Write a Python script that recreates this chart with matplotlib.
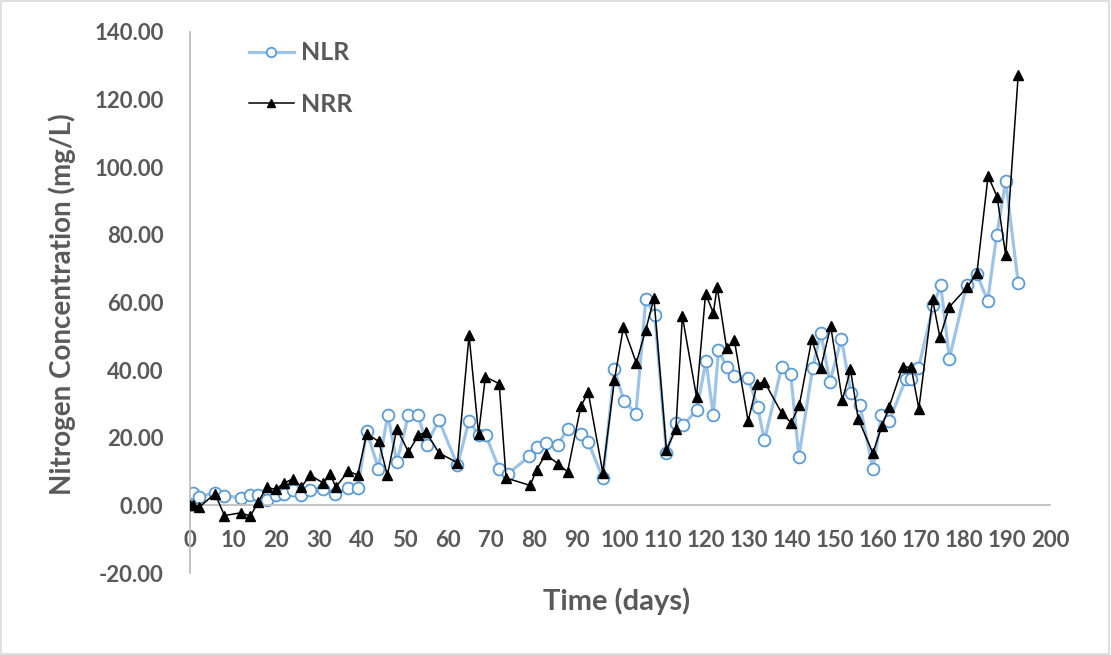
import matplotlib
matplotlib.use('Agg')
import matplotlib.pyplot as plt
import matplotlib.patches as mpatches

# sampling days and concentrations (mg/L)
nlr_days = [0, 0.8, 2.2, 5.7, 8, 11.9, 14, 15.7, 17.8, 19.9, 21.9, 24, 25.9, 27.9, 31, 33.7,
            36.8, 39, 41.1, 43.8, 46, 48.1, 50.8, 53.1, 55, 57.9, 62.2, 64.9, 67.1, 68.8,
            71.9, 74, 78.9, 80.6, 82.7, 85.6, 87.8, 90.9, 92.6, 96, 98.7, 100.9, 103.7, 106,
            108.1, 110.8, 113, 114.7, 117.8, 120, 121.7, 122.9, 124.8, 126.5, 129.8, 132,
            133.6, 137.6, 139.7, 141.6, 144.8, 146.7, 148.8, 151.5, 153.7, 155.8, 158.8,
            160.8, 162.6, 166.5, 167.7, 169.4, 172.9, 174.6, 176.6, 180.6, 183, 185.5, 187.6,
            189.7, 192.6]
nlr = [0.3, 3.8, 2.5, 3.8, 2.8, 2.3, 3.0, 3.2, 1.7, 3.2, 3.5, 4.4, 3.0, 4.6, 4.9, 3.3,
       5.1, 5.1, 22.0, 10.9, 26.8, 12.8, 26.6, 26.6, 18.0, 25.2, 11.8, 25.1, 20.7, 20.7,
       10.8, 9.4, 14.5, 17.3, 18.3, 18.0, 22.7, 21.2, 18.7, 8.1, 40.2, 31.0, 27.1, 60.9,
       56.2, 15.5, 24.5, 23.7, 28.1, 42.6, 26.6, 45.9, 40.9, 38.2, 37.8, 29.1,
       19.2, 40.9, 38.8, 14.4, 40.7, 51.1, 36.5, 49.3, 33.2, 29.6, 10.7,
       26.6, 24.9, 37.5, 37.5, 40.7, 59.2, 65.1, 43.4, 65.1, 68.4, 60.5, 79.9,
       95.9, 65.8]

nrr_days = [0, 0.8, 2.2, 5.8, 8, 11.9, 14, 15.9, 17.8, 19.9, 21.9, 24, 25.9, 27.9, 31, 32.6,
            33.9, 36.8, 39, 41.1, 43.9, 45.9, 48.1, 50.8, 53.1, 54.9, 57.9, 62.2, 64.9, 67.1,
            68.7, 71.9, 73.5, 79.1, 80.6, 82.7, 85.6, 87.8, 90.9, 92.6, 96, 98.7, 100.8, 103.8,
            106, 107.9, 110.8, 113, 114.5, 117.8, 119.9, 121.7, 122.6, 124.8, 126.6, 129.8,
            131.9, 133.6, 137.6, 139.8, 141.7, 144.6, 146.7, 149, 151.7, 153.6, 155.4, 158.8,
            160.9, 162.6, 165.7, 167.7, 169.5, 172.7, 174.4, 176.6, 180.8, 183, 185.6, 187.7,
            189.7, 192.6]
nrr = [0.0, 0.0, -0.5, 3.5, -3.0, -2.2, -3.2, 1.0, 5.4, 4.7, 6.6, 7.9, 5.4, 9.0, 6.6, 9.3,
       5.4, 10.1, 9.0, 21.2, 18.9, 8.9, 22.7, 15.8, 20.7, 21.7, 15.5, 12.6, 50.3, 21.2,
       38.0, 36.0, 8.1, 5.9, 10.5, 15.1, 12.3, 9.9, 29.3, 33.5, 9.7, 37.0, 52.8, 42.1,
       52.0, 61.2, 16.3, 22.7, 55.9, 32.1, 62.6, 56.9, 64.6, 46.4, 48.8, 24.9,
       36.0, 36.5, 27.3, 24.4, 29.6, 49.1, 40.7, 53.0, 31.1, 40.2, 25.6, 15.5,
       23.4, 29.1, 40.9, 40.9, 28.6, 60.9, 49.7, 58.7, 64.6, 68.7, 97.4, 91.3,
       74.0, 127.2]

x_ticks = list(range(0, 201, 10))
y_ticks = list(range(-20, 141, 20))

plt.rcParams['font.family'] = ['Lato', 'DejaVu Sans']
grey = '#595959'
axis_col = '#BFBFBF'

fig = plt.figure(figsize=(11.11, 6.55), dpi=100)
ax = fig.add_axes([190/1111, 1 - 573/655, (1050-190)/1111, (573-32)/655])

ax.plot(nlr_days, nlr, color='#9DC3E6', lw=2.3, marker='o', markersize=8.5,
        markerfacecolor='white', markeredgecolor='#5B9BD5', markeredgewidth=1.3,
        label='NLR', zorder=2)
ax.plot(nrr_days, nrr, color='black', lw=1.1, marker='^', markersize=6.5,
        markerfacecolor='black', markeredgecolor='black', label='NRR', zorder=3)

ax.set_xlim(0, 200)
ax.set_ylim(-20, 140)
ax.set_xticks(x_ticks)
ax.set_yticks(y_ticks)
ax.set_yticklabels(['%.2f' % v for v in y_ticks])

ax.spines['top'].set_visible(False)
ax.spines['right'].set_visible(False)
ax.spines['bottom'].set_position(('data', 0))
for s in ('left', 'bottom'):
    ax.spines[s].set_color(axis_col)
    ax.spines[s].set_linewidth(1.3)

ax.tick_params(axis='both', length=0, labelsize=16, labelcolor=grey)
ax.tick_params(axis='x', pad=18)
ax.tick_params(axis='y', pad=19)
for lab in ax.get_xticklabels() + ax.get_yticklabels():
    lab.set_fontweight('bold')

fig.text(617/1111, 1 - 601/655, 'Time (days)', ha='center', va='center',
         fontsize=21, fontweight='bold', color=grey)
fig.text(62/1111, 1 - 304/655, 'Nitrogen Concentration (mg/L)', ha='center', va='center',
         rotation=90, fontsize=20, fontweight='bold', color=grey)

leg = ax.legend(loc='upper left', bbox_to_anchor=(226/1111, 1 - 19/655),
                bbox_transform=fig.transFigure, frameon=False, fontsize=18,
                handlelength=1.8, handletextpad=0.3, labelspacing=1.12, markerscale=0.8)
for t in leg.get_texts():
    t.set_color(grey)
    t.set_fontweight('bold')

# light frame around the whole chart
fig.patches.append(mpatches.Rectangle((0.001, 0.002), 0.997, 0.996, transform=fig.transFigure,
                                      fill=False, edgecolor='#D9D9D9', lw=1.2))

plt.savefig('out.png', dpi=100)
